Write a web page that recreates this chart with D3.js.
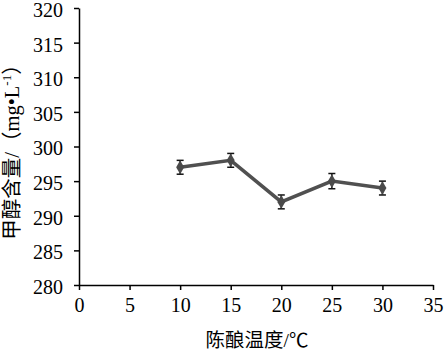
<!DOCTYPE html>
<html><head><meta charset="utf-8">
<script src="https://cdn.jsdelivr.net/npm/d3@7"></script>
<style>body{margin:0;background:#fff}svg{display:block}
.lat{font-family:"Liberation Serif","Times New Roman",Tinos,"DejaVu Serif",serif}
.cjk{font-family:"Liberation Serif","Times New Roman","Noto Sans CJK SC",serif}
</style>
</head><body>
<script>
const temps = [10, 15, 20, 25, 30];
const methanol = [297, 298, 292, 295, 294];
const errors = [1, 1, 1, 1.1, 1];
const xTicks = [0, 5, 10, 15, 20, 25, 30, 35];
const yTicks = [280, 285, 290, 295, 300, 305, 310, 315, 320];

const W = 444, H = 351;
const svg = d3.select("body").append("svg").attr("width", W).attr("height", H);
const x = d3.scaleLinear().domain([0, 35]).range([79, 433]);
const y = d3.scaleLinear().domain([280, 320]).range([285, 8]);

const gx = svg.append("g").attr("transform", "translate(0,285)")
  .call(d3.axisBottom(x).tickValues(xTicks).tickSize(5).tickPadding(6).tickSizeOuter(0));
const gy = svg.append("g").attr("transform", "translate(79,0)")
  .call(d3.axisLeft(y).tickValues(yTicks).tickSize(5).tickPadding(11).tickSizeOuter(0));
[gx, gy].forEach(g => {
  g.attr("font-family", null).attr("font-size", null);
  g.selectAll("path, line").attr("stroke", "#000").attr("stroke-width", 1.5);
  g.selectAll("text").attr("class", "lat").style("font-size", "20px").attr("fill", "#000");
});
gy.selectAll("text").attr("dy", "0.42em");
gx.selectAll("text").attr("dy", "0.78em");

const data = temps.map((t, i) => ({t, v: methanol[i], e: errors[i]}));
svg.append("path").datum(data)
  .attr("fill", "none").attr("stroke", "#505050").attr("stroke-width", 3.5)
  .attr("d", d3.line().x(d => x(d.t)).y(d => y(d.v)));

const eb = svg.append("g").attr("stroke", "#111").attr("stroke-width", 1.5);
data.forEach(d => {
  eb.append("line").attr("x1", x(d.t)).attr("x2", x(d.t)).attr("y1", y(d.v - d.e)).attr("y2", y(d.v + d.e));
  [d.v - d.e, d.v + d.e].forEach(v => eb.append("line")
    .attr("x1", x(d.t) - 3.5).attr("x2", x(d.t) + 3.5).attr("y1", y(v)).attr("y2", y(v)));
});
svg.append("g").selectAll("path").data(data).join("path")
  .attr("transform", d => `translate(${x(d.t)},${y(d.v)})`)
  .attr("d", d3.symbol().type(d3.symbolDiamond).size(55))
  .attr("fill", "#4a4a4a");

svg.append("text").attr("class", "cjk").attr("x", 257).attr("y", 347).attr("text-anchor", "middle")
  .style("font-size", "19.5px").attr("fill", "#000").text("陈酿温度/℃");

const yl = svg.append("text").attr("class", "cjk").attr("transform", "translate(19,147) rotate(-90)")
  .attr("text-anchor", "middle").style("font-size", "20.5px").attr("fill", "#000");
yl.append("tspan").text("甲醇含量/（mg•L");
yl.append("tspan").style("font-size", "13px").attr("dy", -8).text("-1");
yl.append("tspan").attr("dy", 8).text("）");
</script>
</body></html>
